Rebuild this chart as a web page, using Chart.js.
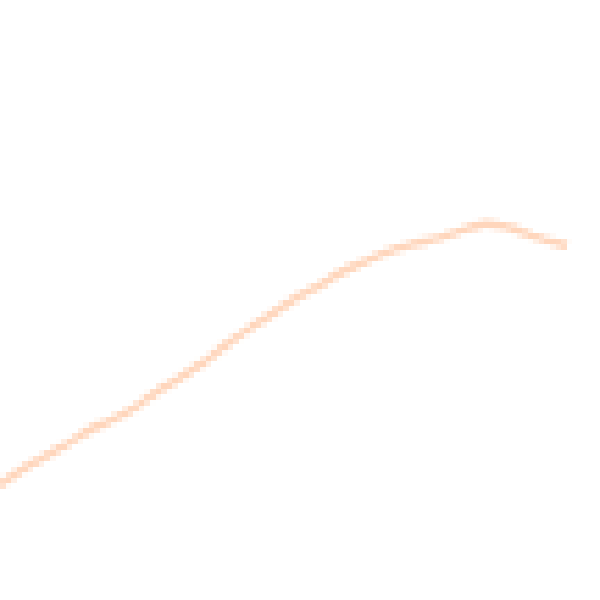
<!DOCTYPE html>
<html>
<head>
<meta charset="utf-8">
<script src="https://cdn.jsdelivr.net/npm/chart.js@4/dist/chart.umd.min.js"></script>
<style>
  html, body { margin: 0; padding: 0; background: #fff; }
  #wrap { width: 600px; height: 600px; }
  canvas { image-rendering: pixelated; }
</style>
</head>
<body>
<div id="wrap"><canvas id="c"></canvas></div>
<script>
// points (x across, y up from the bottom edge)
const xs = [0, 30, 60, 100, 130, 160, 200, 230, 260, 290, 320, 350, 380, 410, 440, 470, 487, 510, 540, 567];
const ys = [115, 135, 152, 175, 190, 210, 235, 258, 278, 298, 315, 332, 345, 355, 362, 372, 376, 372, 362, 354];

const pts = xs.map((x, i) => ({ x: x, y: ys[i] }));

new Chart(document.getElementById("c"), {
    type: "line",
    data: {
        datasets: [
            { data: pts,
              borderColor: "#ffd6bc",
              borderWidth: 8,
              pointRadius: 0,
              tension: 0.4,
              fill: false },
        ],
    },
    options: {
        devicePixelRatio: 0.18,
        responsive: true,
        maintainAspectRatio: false,
        animation: false,
        layout: { padding: 0 },
        scales: {
            x: { type: "linear", min: 0, max: 600, display: false },
            y: { min: 0, max: 600, display: false },
        },
        plugins: {
            legend: { display: false },
            tooltip: { enabled: false },
        },
    },
});
</script>
</body>
</html>
